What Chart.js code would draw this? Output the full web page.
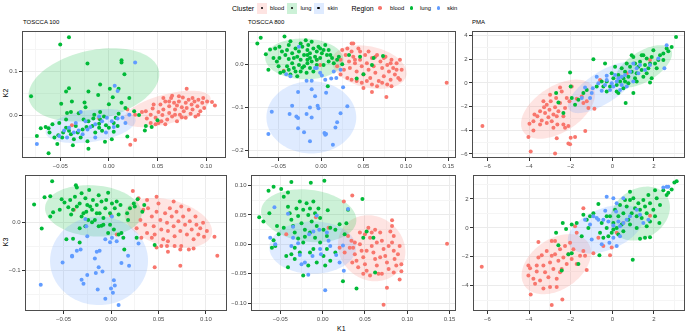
<!DOCTYPE html>
<html>
<head>
<meta charset="utf-8">
<script src="https://cdn.jsdelivr.net/npm/chart.js@4.4.1/dist/chart.umd.min.js"></script>
<style>
  body { margin: 0; background: #fff; width: 689px; height: 333px; position: relative; overflow: hidden;
         font-family: "Liberation Sans", Arial, sans-serif; }
  canvas { position: absolute; }
  .t { position: absolute; white-space: nowrap; color: #000; line-height: 1; transform: translateY(-50%); }
  .key { position: absolute; width: 10px; height: 11px; top: 2.5px; }
  .key i { position: absolute; left: 3.6px; top: 4.1px; width: 2.8px; height: 2.8px; border-radius: 50%; background: #000; }
  .dot { position: absolute; width: 3.6px; height: 3.6px; border-radius: 50%; top: 6.2px; }
</style>
</head>
<body>

<!-- legende -->
<div class="t" style="left:232px;top:8px;font-size:7px">Cluster</div>
<div class="key" style="left:257px;background:rgba(248,118,109,0.2)"><i></i></div>
<div class="t" style="left:270px;top:8.5px;font-size:5.8px">blood</div>
<div class="key" style="left:287px;background:rgba(0,186,56,0.2)"><i></i></div>
<div class="t" style="left:300.5px;top:8.5px;font-size:5.8px">lung</div>
<div class="key" style="left:313.5px;background:rgba(97,156,255,0.2)"><i></i></div>
<div class="t" style="left:327.5px;top:8.5px;font-size:5.8px">skin</div>
<div class="t" style="left:351.5px;top:8px;font-size:7px">Region</div>
<div class="dot" style="left:378.2px;background:#F8766D"></div>
<div class="t" style="left:390px;top:8.5px;font-size:5.8px">blood</div>
<div class="dot" style="left:409.9px;background:#00BA38"></div>
<div class="t" style="left:420px;top:8.5px;font-size:5.8px">lung</div>
<div class="dot" style="left:436.5px;background:#619CFF"></div>
<div class="t" style="left:447px;top:8.5px;font-size:5.8px">skin</div>

<!-- titres des panneaux et des axes -->
<div class="t" style="left:23px;top:22px;font-size:6px">TOSCCA 100</div>
<div class="t" style="left:248px;top:22px;font-size:6px">TOSCCA 800</div>
<div class="t" style="left:472px;top:22px;font-size:6px">PMA</div>
<div class="t" style="left:337px;top:327.5px;font-size:7px">K1</div>
<div class="t" style="left:1px;top:93px;font-size:7px;transform:translate(0,-50%) rotate(-90deg)">K2</div>
<div class="t" style="left:1px;top:242px;font-size:7px;transform:translate(0,-50%) rotate(-90deg)">K3</div>

<script>
// couleurs ggplot par défaut (blood, lung, skin)
const regions = ["blood", "lung", "skin"];
const colores = ["#F8766D", "#00BA38", "#619CFF"];
const rellenos = ["rgba(248,118,109,0.2)", "rgba(0,186,56,0.2)", "rgba(97,156,255,0.2)"];

// ---- TOSCCA 100 : K1 / K2 ----
const t100k2Blood = [[0.080,0.061],[0.106,0.031],[0.109,0.023],[0.027,-0.056],[0.022,-0.067],[-0.010,-0.007],[-0.038,-0.022],[0.019,0.014],[0.027,0.002],[0.034,0.008],
  [0.038,0.010],[0.043,0.002],[0.045,0.016],[0.048,-0.005],[0.051,0.008],[0.053,0.025],[0.055,0.001],[0.056,0.014],[0.058,0.032],[0.060,-0.009],
  [0.062,0.021],[0.062,0.006],[0.064,0.040],[0.065,-0.002],[0.067,0.029],[0.068,0.014],[0.070,-0.013],[0.072,0.032],[0.073,0.002],[0.075,0.019],
  [0.076,0.041],[0.077,0.010],[0.079,0.029],[0.079,-0.005],[0.080,0.017],[0.082,0.036],[0.084,0.004],[0.085,0.025],[0.086,0.014],[0.088,0.032],
  [0.089,-0.002],[0.091,0.021],[0.092,0.036],[0.094,0.010],[0.096,0.029],[0.098,0.017],[0.101,0.032],[0.048,-0.020],[0.051,-0.017],[0.043,-0.017],
  [0.039,-0.007],[0.065,0.045],[0.072,0.044],[0.062,0.032],[0.068,0.002],[0.075,-0.004],[0.054,-0.013],[0.046,0.025],[0.058,-0.020],[0.086,0.040],
  [0.092,0.002],[0.097,0.040],[0.070,0.023],[0.056,0.040]];
const t100k2Lung = [[-0.041,0.179],[-0.050,0.162],[-0.080,0.044],[-0.022,0.119],[0.013,0.126],[0.013,0.121],[0.016,0.094],[-0.009,0.071],[0.001,0.061],[0.010,0.061],
  [-0.041,0.062],[-0.044,0.055],[-0.021,0.055],[-0.011,0.047],[0.004,0.042],[0.021,0.040],[-0.049,0.027],[-0.038,0.032],[-0.025,0.030],[0.000,0.026],
  [0.013,0.029],[-0.024,0.019],[-0.039,0.008],[-0.031,0.005],[-0.009,0.008],[-0.044,-0.009],[-0.026,-0.009],[-0.015,0.002],[-0.051,-0.017],[-0.058,-0.020],
  [-0.062,-0.029],[-0.070,-0.029],[-0.074,-0.047],[-0.061,-0.039],[-0.056,-0.050],[-0.052,-0.045],[-0.053,-0.065],[-0.037,-0.068],[-0.022,-0.059],[-0.021,-0.076],
  [-0.062,-0.086],[-0.004,-0.060],[0.003,-0.054],[0.019,-0.048],[0.037,-0.034],[0.038,-0.024],[0.044,-0.026],[0.050,-0.011],[0.026,0.010],[0.031,0.001],
  [0.017,0.017],[0.005,-0.017],[-0.010,-0.019],[-0.017,-0.024],[-0.027,-0.032],[-0.032,-0.039],[-0.041,-0.035],[-0.044,-0.028],[-0.048,-0.050],[-0.029,-0.050],
  [-0.014,-0.039],[-0.007,-0.035],[0.000,-0.028],[0.009,-0.024],[-0.034,-0.024],[-0.021,-0.013],[-0.009,-0.009],[-0.003,-0.022],[0.005,-0.037],[-0.023,-0.026],
  [-0.039,-0.043],[-0.016,-0.007],[-0.005,-0.002],[0.007,-0.005],[-0.010,-0.028],[-0.047,-0.039],[0.010,0.004],[-0.036,-0.054],[-0.065,-0.026],[-0.043,0.006]];
const t100k2Skin = [[0.027,0.121],[0.006,0.068],[0.009,0.056],[-0.074,-0.065],[-0.051,-0.047],[-0.043,-0.050],[-0.041,-0.028],[-0.034,-0.017],[-0.029,0.008],[-0.024,-0.013],
  [-0.019,-0.026],[-0.014,-0.020],[-0.007,-0.013],[-0.002,-0.005],[0.003,-0.013],[0.009,-0.007],[0.014,-0.005],[0.017,-0.017],[-0.003,-0.039],[-0.014,-0.050],
  [-0.027,-0.043],[-0.031,-0.034],[-0.046,-0.034],[-0.010,-0.002],[-0.022,-0.032],[-0.036,-0.039],[0.005,-0.026],[0.021,0.002]];
// ellipses : [centre x, centre y, demi-axe 1 (x, y), demi-axe 2 (x, y)]
const t100k2Ell = [[0.0599,0.015,0.0445,0.0263,-0.0041,0.0323],[-0.0154,0.070,0.0667,0.0338,-0.0082,0.0767],[-0.0188,-0.024,0.0462,0.0150,-0.0024,0.0361]];

// ---- TOSCCA 800 : K1 / K2 ----
const t800k2Blood = [[0.148,-0.043],[0.077,-0.076],[0.060,-0.064],[0.038,0.048],[-0.044,-0.015],[-0.005,0.010],[-0.001,-0.002],
  [0.025,0.033],[0.029,0.021],[0.031,0.036],[0.033,0.006],[0.034,-0.009],[0.036,0.029],[0.038,0.017],[0.040,0.002],[0.042,-0.017],[0.044,0.036],
  [0.046,0.010],[0.048,-0.005],[0.050,-0.024],[0.052,0.021],[0.054,0.002],[0.056,-0.013],[0.058,-0.032],[0.060,0.014],[0.062,-0.005],[0.064,-0.020],
  [0.066,0.021],[0.068,-0.039],[0.070,0.006],[0.072,-0.009],[0.074,-0.028],[0.076,0.017],[0.078,-0.002],[0.080,-0.017],[0.082,-0.036],[0.083,0.010],
  [0.085,-0.009],[0.087,-0.024],[0.089,0.002],[0.091,-0.032],[0.093,0.010],[0.095,-0.013],[0.023,-0.024],[0.027,-0.013],[0.031,-0.032],[0.036,-0.036],
  [0.042,-0.039],[0.048,-0.043],[0.054,-0.039],[0.060,-0.047],[0.066,-0.051],[0.072,-0.043],[0.078,-0.047],[0.019,-0.005],[0.023,0.010],[0.046,0.029],
  [0.056,0.029],[0.064,0.017],[0.074,0.014],[0.082,0.002],[0.089,-0.013],[0.093,-0.036],[0.083,-0.051],[0.050,-0.055],[0.036,0.048],[0.040,0.010]];
const t800k2Lung = [[-0.075,0.048],[-0.071,0.061],[-0.043,0.064],[-0.065,0.023],[-0.062,-0.013],[-0.060,0.034],[-0.054,0.036],[-0.049,0.040],[-0.046,0.029],[-0.042,0.021],
  [-0.040,0.033],[-0.038,0.044],[-0.036,0.053],[-0.034,0.025],[-0.032,0.014],[-0.030,0.036],[-0.028,0.017],[-0.026,0.029],[-0.024,0.010],[-0.022,0.040],
  [-0.020,0.021],[-0.018,0.055],[-0.016,0.033],[-0.016,0.010],[-0.015,0.044],[-0.013,0.025],[-0.011,0.006],[-0.009,0.036],[-0.007,0.017],[-0.005,0.029],
  [-0.003,0.040],[-0.001,0.014],[0.001,0.025],[0.003,0.033],[0.005,0.044],[0.007,0.021],[0.009,0.006],[0.013,0.014],[0.015,0.002],[0.019,0.010],
  [0.021,0.017],[0.025,0.000],[-0.044,-0.017],[-0.040,-0.005],[-0.036,-0.024],[-0.032,-0.009],[-0.028,-0.028],[-0.024,-0.017],[-0.020,-0.005],[-0.017,-0.020],
  [-0.013,-0.009],[-0.009,-0.017],[-0.056,0.014],[-0.052,0.006],[-0.050,-0.005],[-0.024,0.048],[-0.011,0.052],[-0.001,0.036],[-0.034,0.002],[-0.026,-0.002],
  [-0.016,0.002],[-0.005,-0.002],[0.003,-0.002],[0.009,0.033],[0.042,-0.033],[0.050,-0.023],[0.046,0.017],[0.062,0.014],[0.008,-0.051],[0.073,0.019],
  [0.060,-0.002],[0.033,0.021],[-0.049,0.014],[-0.038,0.012],[-0.016,0.021],[-0.022,-0.008],[-0.038,-0.013],[-0.048,-0.020],[-0.030,-0.017],[-0.013,0.014],
  [-0.005,0.010],[0.011,0.021]];
const t800k2Skin = [[-0.026,0.040],[-0.041,-0.023],[-0.036,-0.028],[-0.017,-0.038],[-0.011,-0.038],[-0.007,-0.009],[-0.001,-0.020],[0.005,-0.036],[0.012,-0.033],[0.018,-0.032],
  [0.023,-0.013],[0.026,-0.053],[-0.011,-0.058],[-0.027,-0.064],[0.006,-0.066],[-0.007,-0.074],[-0.058,-0.110],[-0.034,-0.096],[-0.037,-0.115],[-0.029,-0.121],
  [-0.027,-0.124],[-0.017,-0.115],[-0.013,-0.100],[-0.011,-0.123],[-0.004,-0.096],[-0.003,-0.102],[0.023,-0.113],[0.031,-0.097],[0.019,-0.134],[0.017,-0.146],
  [-0.027,-0.148],[-0.020,-0.157],[-0.062,-0.161],[0.004,-0.159],[0.005,-0.163],[0.006,-0.161],[-0.013,-0.178],[0.014,-0.186],[-0.005,-0.009],[0.001,-0.026],
  [0.015,-0.017]];
const t800k2Ell = [[0.0568,-0.0068,0.0439,-0.0114,-0.002,0.049],[-0.0196,0.0121,0.046,-0.004,0.002,0.047],[-0.0114,-0.1228,0.0529,0,0,0.0834]];

// ---- PMA : K1 / K2 ----
const pmaK2Blood = [[-6.24,-3.65],[-3.92,-5.80],[-4.03,-4.58],[-3.79,-4.02],[-3.98,-3.46],[-3.74,-2.68],[-3.60,-2.82],[-3.47,-2.40],[-3.39,-3.18],[-3.28,-2.06],
  [-3.23,-2.54],[-3.15,-3.38],[-3.07,-2.90],[-3.02,-2.26],[-2.96,-1.56],[-2.91,-3.24],[-2.83,-2.68],[-2.75,-2.06],[-2.70,-1.28],[-2.64,-3.52],
  [-2.59,-2.40],[-2.51,-1.70],[-2.43,-0.73],[-2.35,-2.82],[-2.27,-2.12],[-2.19,-1.28],[-2.11,-3.65],[-2.06,-1.56],[-2.00,-4.63],[-2.03,-5.19],
  [-2.11,-5.13],[-1.79,-4.58],[-1.30,-4.07],[-2.67,-4.69],[-2.75,-5.97],[-3.31,-1.56],[-2.99,-1.00],[-2.51,-0.39],[-1.95,-0.31],[-1.71,-1.34],
  [-1.47,-1.14],[-1.39,-1.70],[-1.23,-1.56],[-1.15,-2.12],[-0.86,-2.18],[-0.59,0.25],[0.69,0.81],[1.81,1.93],[-3.47,-3.52],[-2.83,-3.79],
  [-2.35,-3.52],[-3.79,-3.24],[-3.15,-1.84],[-2.67,-2.82],[-2.27,-3.79]];
const pmaK2Lung = [[3.06,3.88],[2.85,3.04],[2.69,2.68],[2.61,2.90],[2.45,2.48],[2.29,2.34],[2.21,1.93],[1.97,2.76],[1.89,2.20],[1.81,1.65],
  [1.73,1.23],[1.65,2.06],[1.57,1.51],[1.49,2.34],[1.41,1.09],[1.33,1.79],[1.25,1.37],[1.17,0.81],[1.09,1.65],[1.01,2.20],
  [0.93,0.95],[0.85,1.37],[0.77,0.53],[0.69,1.65],[0.61,0.95],[0.53,0.39],[0.45,1.23],[0.37,0.11],[0.29,0.67],[0.21,-0.17],
  [0.13,1.37],[0.05,0.39],[-0.03,0.81],[-0.11,-0.31],[-0.27,0.11],[-0.35,1.65],[-0.43,-0.31],[-0.51,0.11],[-0.91,2.01],[-1.23,-0.59],
  [-1.39,-0.86],[-1.63,-1.42],[-2.03,0.89],[-2.00,-0.31],[-1.95,-1.28],[-1.79,-1.84],[-2.70,-0.86],[-2.59,-1.65],[-2.35,-2.54],[0.64,-1.70],
  [1.01,-0.86],[1.81,0.03],[1.89,0.39],[2.45,1.93],[2.13,1.23],[1.41,2.34],[0.93,2.34],[1.17,0.11],[1.49,0.53],[0.53,-0.45],
  [0.21,-0.73],[-0.27,-0.73],[-0.75,-0.31],[0.29,-0.86],[2.05,1.65],[1.65,0.81],[0.77,-0.03],[1.09,0.39],[0.61,0.11]];
const pmaK2Skin = [[2.61,3.18],[2.50,1.23],[2.21,2.06],[1.33,1.51],[1.17,1.23],[1.01,1.65],[0.85,0.95],[0.61,0.67],[0.45,0.53],[0.29,0.39],
  [0.21,0.11],[0.13,0.67],[0.05,-0.31],[-0.03,-0.03],[-0.11,-0.59],[-0.27,0.25],[-0.35,-0.17],[-0.51,-0.67],[-0.67,-0.03],[-0.75,0.53],
  [-0.94,-0.45],[-0.99,-0.86],[-1.07,-1.28],[-1.31,-0.39],[-1.47,-1.28],[0.69,-0.31],[0.45,-0.17],[0.37,-0.59],[1.01,0.11],[1.25,0.81],
  [1.57,1.09],[1.81,1.51],[-0.27,0.61]];
const pmaK2Ell = [[-2.61,-2.22,1.666,1.916,0.614,-1.608],[1.50,1.40,1.31,1.44,0.39,-1.07],[-0.446,-0.39,1.627,1.866,0.418,-1.10]];

// ---- TOSCCA 100 : K1 / K3 ----
const t100k3Blood = [[0.112,-0.069],[0.109,-0.030],[0.073,-0.090],[0.046,-0.093],[0.060,-0.061],[0.023,0.065],[0.029,0.050],[0.000,0.014],[-0.039,0.026],[0.006,-0.025],[0.032,-0.032],
  [0.038,0.046],[0.039,0.029],[0.043,0.012],[0.045,-0.008],[0.046,-0.025],[0.048,0.022],[0.050,0.039],[0.052,0.005],[0.053,-0.015],[0.055,-0.035],
  [0.057,0.019],[0.059,-0.001],[0.060,-0.018],[0.062,0.029],[0.064,0.012],[0.066,-0.008],[0.067,-0.029],[0.069,0.022],[0.071,0.002],[0.073,-0.018],
  [0.074,-0.049],[0.076,0.012],[0.078,-0.005],[0.080,-0.025],[0.082,0.026],[0.083,0.002],[0.085,-0.015],[0.087,-0.035],[0.089,0.012],[0.090,-0.005],
  [0.092,-0.025],[0.094,-0.012],[0.097,-0.001],[0.101,-0.018],[0.074,0.033],[0.067,-0.049],[0.059,-0.049],[0.053,-0.049],[0.048,-0.052],[0.043,-0.032],
  [0.034,0.026],[0.031,0.005],[0.027,-0.012],[0.036,-0.005],[0.038,-0.022],[0.082,-0.056],[0.073,-0.056],[0.087,-0.054],[0.060,-0.039],[0.066,0.043],
  [0.048,0.053],[0.098,-0.030]];
const t100k3Lung = [[-0.062,0.085],[-0.081,0.037],[-0.073,-0.013],[-0.070,0.052],[-0.064,0.054],[-0.064,0.012],[-0.061,0.021],[-0.052,0.048],[-0.049,0.041],[-0.045,0.031],
  [-0.043,0.046],[-0.040,0.026],[-0.037,0.077],[-0.036,0.072],[-0.033,0.039],[-0.031,0.060],[-0.029,0.019],[-0.027,0.050],[-0.025,0.036],[-0.023,0.067],
  [-0.020,0.026],[-0.019,0.046],[-0.017,0.005],[-0.015,0.036],[-0.013,0.056],[-0.012,0.019],[-0.010,0.043],[-0.008,-0.005],[-0.006,0.029],[-0.005,0.046],
  [-0.003,0.061],[-0.001,0.019],[0.001,0.039],[0.003,-0.015],[0.004,0.029],[0.006,0.043],[0.008,0.016],[0.010,0.036],[0.011,-0.022],[0.013,-0.032],
  [0.014,-0.056],[0.017,0.019],[0.020,0.029],[0.024,0.039],[0.025,0.033],[0.028,0.048],[0.027,-0.032],[0.033,0.022],[0.035,0.036],[0.046,-0.047],
  [-0.047,-0.035],[-0.040,-0.034],[-0.033,-0.042],[-0.033,-0.012],[-0.027,-0.008],[-0.024,0.005],[-0.013,-0.008],[-0.010,-0.007],[-0.003,-0.022],[-0.001,-0.005],
  [0.008,-0.025],[-0.026,0.022],[-0.042,0.016],[-0.054,0.026],[-0.038,0.053],[-0.022,0.033],[-0.031,0.012],[-0.020,0.000],[0.018,0.005],[-0.036,0.033],
  [-0.008,0.009],[-0.015,0.019]];
const t100k3Skin = [[-0.074,-0.129],[-0.051,-0.083],[-0.041,-0.069],[-0.041,-0.071],[-0.036,-0.059],[-0.032,-0.056],[-0.025,-0.029],[-0.027,0.007],[-0.017,-0.075],[-0.015,-0.061],
  [-0.012,-0.059],[-0.013,-0.093],[-0.016,-0.105],[-0.009,-0.102],[-0.025,-0.109],[-0.031,-0.119],[-0.029,-0.127],[-0.014,-0.139],[-0.006,-0.158],[0.000,-0.137],
  [0.003,-0.120],[0.004,-0.131],[0.002,-0.146],[0.008,-0.171],[0.011,-0.084],[0.018,-0.069],[0.019,-0.090],[0.029,-0.044],[-0.006,-0.035],[0.001,-0.032],
  [0.001,0.012],[0.006,-0.039],[-0.026,-0.008],[-0.001,-0.041]];
const t100k3Ell = [[0.0604,-0.0014,0.0457,-0.0238,-0.0063,-0.0462],[-0.0186,0.0238,0.0509,-0.0054,0,0.053],[-0.0126,-0.0796,0.0516,0,0,0.0918]];

// ---- TOSCCA 800 : K1 / K3 ----
const t800k3Blood = [[0.147,0.001],[0.072,-0.103],[0.076,-0.074],[0.091,-0.060],[0.025,0.073],[0.035,0.083],[0.082,0.041],[0.082,0.031],[0.030,0.014],[-0.043,0.017],[-0.008,0.046],[0.007,0.028],
  [0.034,0.006],[0.036,-0.006],[0.038,-0.017],[0.040,-0.028],[0.042,-0.039],[0.044,0.000],[0.046,-0.011],[0.048,-0.022],[0.050,-0.034],[0.052,-0.045],
  [0.054,0.028],[0.056,0.011],[0.058,-0.003],[0.060,-0.014],[0.062,-0.025],[0.064,-0.036],[0.066,-0.050],[0.068,0.020],[0.070,0.006],[0.072,-0.008],
  [0.074,-0.020],[0.076,-0.031],[0.078,-0.042],[0.080,0.022],[0.082,0.003],[0.084,-0.011],[0.085,-0.025],[0.087,-0.036],[0.089,-0.017],[0.091,-0.003],
  [0.093,-0.034],[0.044,0.020],[0.050,0.017],[0.058,0.020],[0.064,0.003],[0.048,-0.050],[0.056,-0.053],[0.070,-0.050],[0.084,-0.048],[0.068,-0.022],
  [0.038,0.003],[0.032,-0.006],[0.093,-0.046],[0.084,0.014],[0.052,-0.011],[0.078,-0.003],[0.062,0.025],[0.035,-0.031],[0.026,-0.014],[0.020,-0.006]];
const t800k3Lung = [[-0.075,0.046],[-0.070,0.039],[-0.064,0.091],[-0.058,0.098],[-0.049,0.094],[-0.046,0.081],[-0.041,0.088],[-0.037,0.106],[-0.014,0.105],[0.002,0.108],
  [-0.063,0.053],[-0.054,0.031],[-0.046,0.028],[-0.058,0.007],[-0.056,-0.003],[-0.060,-0.006],[-0.052,0.017],[-0.041,0.064],[-0.039,0.053],[-0.037,0.042],
  [-0.035,0.031],[-0.033,0.020],[-0.031,0.061],[-0.029,0.048],[-0.027,0.073],[-0.025,0.036],[-0.023,0.059],[-0.021,0.025],[-0.019,0.070],[-0.017,0.050],
  [-0.015,0.061],[-0.013,0.039],[-0.011,0.073],[-0.009,0.053],[-0.007,0.031],[-0.005,0.061],[-0.003,0.045],[0.001,0.025],[0.006,0.058],[0.009,0.028],
  [0.015,0.025],[0.020,0.034],[0.026,0.017],[0.028,0.036],[0.030,0.059],[0.047,0.077],[0.040,-0.075],[0.024,-0.063],[0.062,-0.048],[0.048,0.011],
  [0.052,0.022],[0.060,0.011],[-0.043,-0.020],[-0.037,-0.017],[-0.033,-0.006],[-0.027,-0.014],[-0.023,0.003],[-0.023,-0.053],[-0.017,-0.036],[-0.015,-0.014],
  [-0.011,-0.008],[-0.007,-0.031],[0.001,-0.020],[0.003,-0.036],[0.005,-0.008],[0.009,-0.028],[0.015,-0.014],[-0.041,-0.039],[-0.033,-0.025],[-0.021,0.013],
  [-0.009,0.011],[-0.003,0.003],[-0.029,0.010],[-0.015,0.020],[0.005,0.014]];
const t800k3Skin = [[-0.057,0.063],[-0.062,0.011],[-0.056,0.000],[-0.041,0.052],[-0.035,0.030],[-0.037,-0.003],[-0.029,0.002],[-0.035,0.011],[-0.027,-0.018],[-0.021,-0.031],
  [-0.017,-0.052],[-0.016,0.017],[-0.011,0.022],[-0.007,0.049],[-0.004,0.025],[-0.003,-0.008],[-0.002,-0.017],[0.005,0.020],[0.007,0.006],[0.009,-0.003],
  [0.016,-0.018],[0.020,-0.031],[0.025,-0.045],[0.003,-0.078],[0.024,-0.002],[0.030,0.060],[-0.012,-0.020],[-0.025,-0.034]];
const t800k3Ell = [[0.0579,-0.0067,0.0374,-0.0252,-0.0138,-0.0503],[-0.0165,0.0486,0.0563,-0.0056,-0.002,0.0447],[-0.0118,-0.0056,0.0512,0,0,0.0447]];

// ---- PMA : K1 / K3 ----
const pmaK3Blood = [[-6.27,-2.68],[-3.92,-4.61],[-2.91,-5.34],[-2.40,-4.96],[-3.55,-0.98],[-2.91,-0.91],[-2.75,-0.91],[-1.39,1.36],[-1.79,0.11],[-1.23,-2.91],
  [-0.11,-1.89],[-0.03,-1.36],[0.21,-0.34],[0.53,0.34],[1.81,0.84],[-4.03,-2.61],[-3.95,-2.80],[-4.03,-3.30],[-3.79,-3.52],[-3.71,-3.86],
  [-3.63,-3.02],[-3.55,-2.05],[-3.47,-3.64],[-3.39,-1.89],[-3.31,-2.61],[-3.23,-3.07],[-3.15,-1.59],[-3.07,-3.41],[-2.99,-2.39],[-2.91,-1.93],
  [-2.83,-2.84],[-2.75,-1.82],[-2.67,-3.52],[-2.59,-2.27],[-2.51,-1.48],[-2.43,-2.84],[-2.35,-2.05],[-2.27,-1.25],[-2.19,-2.50],[-2.11,-1.82],
  [-2.03,-1.02],[-1.95,-2.16],[-1.87,-1.48],[-1.71,-2.50],[-1.55,-1.93],[-1.39,-1.59],[-1.31,-1.93],[-3.31,-4.20],[-2.99,-4.09],[-2.67,-4.09],
  [-3.63,-2.61],[-2.51,-3.07],[-1.71,-0.34],[-0.91,-1.75],[-0.67,-0.68],[-0.43,-1.25]];
const pmaK3Lung = [[3.09,3.23],[2.98,3.14],[2.85,2.66],[2.69,2.43],[2.61,2.27],[2.45,2.61],[2.29,1.59],[2.13,2.05],[2.05,2.61],[1.97,1.25],
  [1.81,1.70],[1.73,2.27],[1.65,1.02],[1.57,1.48],[1.49,1.93],[1.41,0.68],[1.33,1.25],[1.25,1.70],[1.17,0.80],[1.09,1.36],
  [1.01,2.05],[0.93,1.02],[0.85,2.50],[0.77,0.57],[0.69,1.48],[0.61,1.93],[0.53,1.02],[0.45,0.23],[0.37,1.59],[0.29,0.80],
  [0.21,0.00],[0.13,1.25],[0.05,0.34],[-0.03,-0.34],[-0.11,0.80],[-0.19,-0.57],[-0.27,0.00],[-0.43,-0.68],[-0.59,-0.34],[-0.67,1.66],
  [-0.91,1.02],[-1.07,0.80],[-1.15,0.00],[-1.23,0.57],[-1.39,0.91],[-1.47,-0.57],[-1.71,0.34],[-1.95,0.23],[-2.22,-0.07],[-2.38,0.34],
  [-2.70,-0.34],[-2.59,-1.20],[-2.11,-1.82],[-1.95,-1.75],[-1.63,-2.50],[-2.43,-2.95],[-0.62,-1.89],[0.98,-2.20],[1.33,-0.75],[1.57,-0.68],
  [1.81,-0.64],[2.26,0.34],[2.05,0.80],[1.81,0.45],[1.65,0.11],[1.17,0.00],[0.85,0.23],[0.53,-0.23],[0.29,-0.45],[0.05,-0.11],
  [-0.27,0.80],[-0.51,0.34],[0.85,1.93]];
const pmaK3Skin = [[-0.27,2.16],[0.05,2.05],[0.21,1.70],[0.53,2.05],[-0.34,1.18],[-0.75,0.68],[-0.91,0.80],[-1.31,0.57],[-1.07,0.23],[-0.67,0.57],
  [-0.43,0.57],[-0.19,0.45],[0.05,0.16],[0.29,0.45],[0.37,0.11],[0.53,0.34],[0.69,0.57],[0.85,0.80],[1.17,1.25],[1.33,0.91],
  [1.49,0.34],[1.73,0.57],[2.45,2.80],[2.61,2.84],[2.69,2.84],[0.37,-0.57],[0.05,-0.68],[0.21,-1.25],[-0.14,-1.02],[-0.51,-1.14],
  [-0.99,-0.80],[0.18,1.14]];
const pmaK3Ell = [[-2.69,-2.51,1.507,1.528,0.710,-1.412],[1.33,0.99,1.26,1.26,0.69,-1.38],[-0.33,-0.09,1.77,1.0,0.35,-1.35]];

// graduations principales
const ticksK1Toscca100 = [-0.05, 0, 0.05, 0.10];
const ticksK1Toscca800 = [-0.05, 0, 0.05, 0.10, 0.15];
const ticksK1Pma = [-6, -4, -2, 0, 2];
const ticksK2Toscca100 = [0, 0.1];
const ticksK2Toscca800 = [-0.2, -0.1, 0];
const ticksK2Pma = [-6, -4, -2, 0, 2, 4];
const ticksK3Toscca100 = [-0.1, 0];
const ticksK3Toscca800 = [-0.10, -0.05, 0, 0.05, 0.10];
const ticksK3Pma = [-4, -2, 0, 2];

const paneles = [
  { caja: [22, 29, 226, 158], x: [-0.0893, 0.1204], y: [-0.097, 0.193], xt: ticksK1Toscca100, yt: ticksK2Toscca100, xd: 2, yd: 1,
    pts: [t100k2Blood, t100k2Lung, t100k2Skin], ell: t100k2Ell },
  { caja: [248, 29, 456, 158], x: [-0.086, 0.159], y: [-0.2166, 0.0766], xt: ticksK1Toscca800, yt: ticksK2Toscca800, xd: 2, yd: 1,
    pts: [t800k2Blood, t800k2Lung, t800k2Skin], ell: t800k2Ell },
  { caja: [472, 29, 685, 158], x: [-6.74, 3.49], y: [-6.35, 4.39], xt: ticksK1Pma, yt: ticksK2Pma, xd: 0, yd: 0,
    pts: [pmaK2Blood, pmaK2Lung, pmaK2Skin], ell: pmaK2Ell },
  { caja: [25, 173, 227, 311], x: [-0.0906, 0.1222], y: [-0.1836, 0.098], xt: ticksK1Toscca100, yt: ticksK3Toscca100, xd: 2, yd: 1,
    pts: [t100k3Blood, t100k3Lung, t100k3Skin], ell: t100k3Ell },
  { caja: [251, 173, 456, 311], x: [-0.0847, 0.1576], y: [-0.1135, 0.118], xt: ticksK1Toscca800, yt: ticksK3Toscca800, xd: 2, yd: 2,
    pts: [t800k3Blood, t800k3Lung, t800k3Skin], ell: t800k3Ell },
  { caja: [473, 173, 685, 311], x: [-6.69, 3.49], y: [-5.75, 3.66], xt: ticksK1Pma, yt: ticksK3Pma, xd: 0, yd: 0,
    pts: [pmaK3Blood, pmaK3Lung, pmaK3Skin], ell: pmaK3Ell }
];

const ANCHO_Y = 24, ALTO_X = 14, MARGEN_SUP = 2, MARGEN_DER = 6;
const fuente = { family: "'Liberation Sans', Arial, sans-serif", size: 6 };

function formato(v, d) {
  return (v < 0 ? "\u2212" : "") + Math.abs(v).toFixed(d);
}

// graduations + lignes secondaires (au milieu)
function conSecundarias(mayores, min, max) {
  const paso = mayores[1] - mayores[0];
  const todos = mayores.map((v) => ({ value: v, sec: false }));
  const medios = [mayores[0] - paso / 2];
  mayores.forEach((v) => medios.push(v + paso / 2));
  medios.filter((v) => v > min && v < max).forEach((v) => todos.push({ value: v, sec: true }));
  return todos.sort((a, b) => a.value - b.value);
}

function ejeOpciones(rango, mayores, dec, esY) {
  return {
    type: "linear",
    min: rango[0],
    max: rango[1],
    bounds: "data",
    afterBuildTicks: (s) => { s.ticks = conSecundarias(mayores, rango[0], rango[1]); },
    afterFit: (s) => {
      if (esY) s.width = ANCHO_Y; else s.height = ALTO_X;
      s.paddingLeft = s.paddingRight = s.paddingTop = s.paddingBottom = 0;
    },
    grid: {
      color: (c) => (c.tick && c.tick.sec ? "#F5F5F5" : "#EBEBEB"),
      tickColor: (c) => (c.tick && c.tick.sec ? "rgba(0,0,0,0)" : "#333333"),
      tickLength: 3,
      lineWidth: 1,
    },
    border: { display: false },
    ticks: {
      autoSkip: false,
      maxRotation: 0,
      padding: 1.5,
      color: "#4D4D4D",
      font: fuente,
      callback: (v, i, t) => (t[i].sec ? "" : formato(v, dec)),
    },
  };
}

function pluginPanel(elipses) {
  return {
    id: "panel",
    beforeDatasetsDraw(chart) {
      const { ctx, chartArea: a, scales } = chart;
      ctx.save();
      ctx.beginPath();
      ctx.rect(a.left, a.top, a.width, a.height);
      ctx.clip();
      elipses.forEach((e, i) => {
        ctx.beginPath();
        for (let k = 0; k <= 120; k++) {
          const t = (k / 120) * Math.PI * 2;
          const px = scales.x.getPixelForValue(e[0] + e[2] * Math.cos(t) + e[4] * Math.sin(t));
          const py = scales.y.getPixelForValue(e[1] + e[3] * Math.cos(t) + e[5] * Math.sin(t));
          if (k === 0) ctx.moveTo(px, py); else ctx.lineTo(px, py);
        }
        ctx.closePath();
        ctx.fillStyle = rellenos[i];
        ctx.fill();
      });
      ctx.restore();
    },
    afterDraw(chart) {
      const { ctx, chartArea: a } = chart;
      ctx.save();
      ctx.strokeStyle = "#4D4D4D";
      ctx.lineWidth = 1;
      ctx.strokeRect(a.left + 0.5, a.top + 0.5, a.width - 1, a.height - 1);
      ctx.restore();
    },
  };
}

paneles.forEach((p) => {
  const [l, t, r, b] = p.caja;
  const lienzo = document.createElement("canvas");
  const w = ANCHO_Y + (r - l) + MARGEN_DER;
  const h = MARGEN_SUP + (b - t) + ALTO_X;
  lienzo.width = w;
  lienzo.height = h;
  lienzo.style.left = (l - ANCHO_Y) + "px";
  lienzo.style.top = (t - MARGEN_SUP) + "px";
  lienzo.style.width = w + "px";
  lienzo.style.height = h + "px";
  document.body.appendChild(lienzo);

  // skin dessiné au-dessus, puis lung, puis blood
  const orden = [2, 1, 0];
  new Chart(lienzo.getContext("2d"), {
    type: "scatter",
    data: {
      datasets: orden.map((i) => ({
        label: regions[i],
        data: p.pts[i].map(([x, y]) => ({ x, y })),
        backgroundColor: colores[i],
        borderWidth: 0,
        pointRadius: 2,
      })),
    },
    options: {
      responsive: false,
      animation: false,
      devicePixelRatio: 1,
      events: [],
      layout: { padding: { top: MARGEN_SUP, right: MARGEN_DER, left: 0, bottom: 0 } },
      plugins: { legend: { display: false }, tooltip: { enabled: false }, title: { display: false } },
      scales: {
        x: ejeOpciones(p.x, p.xt, p.xd, false),
        y: ejeOpciones(p.y, p.yt, p.yd, true),
      },
    },
    plugins: [pluginPanel(p.ell)],
  });
});
</script>
</body>
</html>
